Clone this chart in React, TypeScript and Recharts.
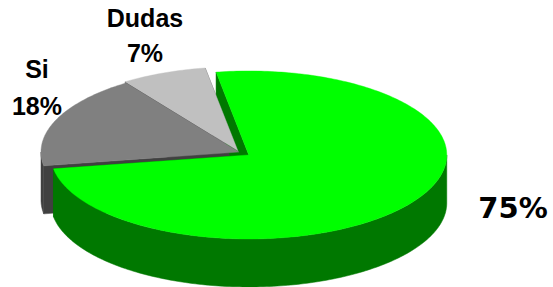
import React from 'react';
import { PieChart, Pie } from 'recharts';

// ---- data ----
const categories = ['Dudas', 'Si', 'No'];
const shares = [7, 18, 75];
const showCategoryName = [true, true, false];

// ---- styles / layout ----
const TOP_COLORS: Record<string, string> = { Dudas: '#C0C0C0', Si: '#808080', No: '#00FF00' };
const SIDE_COLORS: Record<string, string> = { Dudas: '#5E5E5E', Si: '#404040', No: '#007800' };
const EXPLODE: Record<string, number> = { Dudas: 3, Si: 0, No: 12 };
const LABEL_POS: Record<string, { x: number; y: number; font: string; size: number; gap: number }> = {
  Dudas: { x: 145, y: 27, font: '"Liberation Sans", Arial, sans-serif', size: 25, gap: 35 },
  Si: { x: 37, y: 78, font: '"Liberation Sans", Arial, sans-serif', size: 25, gap: 37 },
  No: { x: 513, y: 218, font: '"DejaVu Sans", Verdana, sans-serif', size: 29, gap: 0 },
};
const RY_RATIO = 84 / 198;
const DEPTH = 48;
const CX = 239;
const CY = 152;
const RX = 198;
const START = 99.5;

const data = categories.map((name, i) => ({ name, value: shares[i], showName: showCategoryName[i] }));

const RAD = Math.PI / 180;

function geom(p: any) {
  const name: string = p.payload?.name ?? p.name;
  const rx: number = p.outerRadius;
  const ry = rx * RY_RATIO;
  const e = EXPLODE[name] || 0;
  const mid: number = p.midAngle ?? (p.startAngle + p.endAngle) / 2;
  const ox = p.cx + e * Math.cos(mid * RAD);
  const oy = p.cy - e * Math.sin(mid * RAD) * RY_RATIO;
  const pt = (deg: number): [number, number] => [ox + rx * Math.cos(deg * RAD), oy - ry * Math.sin(deg * RAD)];
  const arc = (a: number, b: number): [number, number][] => {
    const n = Math.max(2, Math.ceil(Math.abs(b - a)));
    const out: [number, number][] = [];
    for (let i = 0; i <= n; i++) out.push(pt(a + ((b - a) * i) / n));
    return out;
  };
  return { name, ox, oy, pt, arc, a: Math.min(p.startAngle, p.endAngle), b: Math.max(p.startAngle, p.endAngle) };
}

const poly = (pts: [number, number][]) => 'M' + pts.map(([x, y]) => `${x.toFixed(2)},${y.toFixed(2)}`).join('L') + 'Z';

function WallShape(p: any) {
  const g = geom(p);
  const fill = SIDE_COLORS[g.name];
  const faces: React.ReactNode[] = [];
  [g.a, g.b].forEach((ang, i) => {
    const [x, y] = g.pt(ang);
    faces.push(
      <path key={'f' + i} d={poly([[g.ox, g.oy], [x, y], [x, y + DEPTH], [g.ox, g.oy + DEPTH]])} fill={fill} stroke={fill} strokeWidth={0.5} />
    );
  });
  const walls: React.ReactNode[] = [];
  for (let k = -1; k <= 2; k++) {
    const lo = Math.max(g.a, 180 + 360 * k);
    const hi = Math.min(g.b, 360 + 360 * k);
    if (hi > lo) {
      const top = g.arc(lo, hi);
      const bottom = top.map(([x, y]) => [x, y + DEPTH] as [number, number]).reverse();
      walls.push(<path key={'w' + k} d={poly([...top, ...bottom])} fill={fill} stroke={fill} strokeWidth={0.5} />);
    }
  }
  return (
    <g>
      {faces}
      {walls}
    </g>
  );
}

function TopShape(p: any) {
  const g = geom(p);
  const fill = TOP_COLORS[g.name];
  return <path d={poly([[g.ox, g.oy], ...g.arc(g.a, g.b)])} fill={fill} stroke={fill} strokeWidth={0.4} />;
}

function renderLabel(p: any) {
  const name: string = p.payload?.name ?? p.name;
  const show = p.payload?.showName ?? false;
  const pos = LABEL_POS[name];
  const pct = Math.round((p.percent ?? 0) * 100) + '%';
  return (
    <g key={'lbl-' + name}>
      {show && (
        <text x={pos.x} y={pos.y} textAnchor="middle" fontFamily={pos.font} fontWeight="bold" fontSize={pos.size} fill="#000">
          {name}
        </text>
      )}
      <text
        x={pos.x}
        y={show ? pos.y + pos.gap : pos.y}
        textAnchor="middle"
        fontFamily={pos.font}
        fontWeight="bold"
        fontSize={pos.size}
        fill="#000"
      >
        {pct}
      </text>
    </g>
  );
}

export default function App() {
  return (
    <div style={{ position: 'absolute', left: 0, top: 0, width: 553, height: 287, background: '#fff' }}>
      <PieChart width={553} height={287} margin={{ top: 0, right: 0, bottom: 0, left: 0 }}>
        <Pie
          data={data}
          dataKey="value"
          nameKey="name"
          cx={CX}
          cy={CY}
          outerRadius={RX}
          innerRadius={0}
          startAngle={START}
          endAngle={START + 360}
          stroke="none"
          isAnimationActive={false}
          shape={(props: any) => <WallShape {...props} />}
        />
        <Pie
          data={data}
          dataKey="value"
          nameKey="name"
          cx={CX}
          cy={CY}
          outerRadius={RX}
          innerRadius={0}
          startAngle={START}
          endAngle={START + 360}
          stroke="none"
          isAnimationActive={false}
          shape={(props: any) => <TopShape {...props} />}
          label={renderLabel}
          labelLine={false}
        />
      </PieChart>
    </div>
  );
}
